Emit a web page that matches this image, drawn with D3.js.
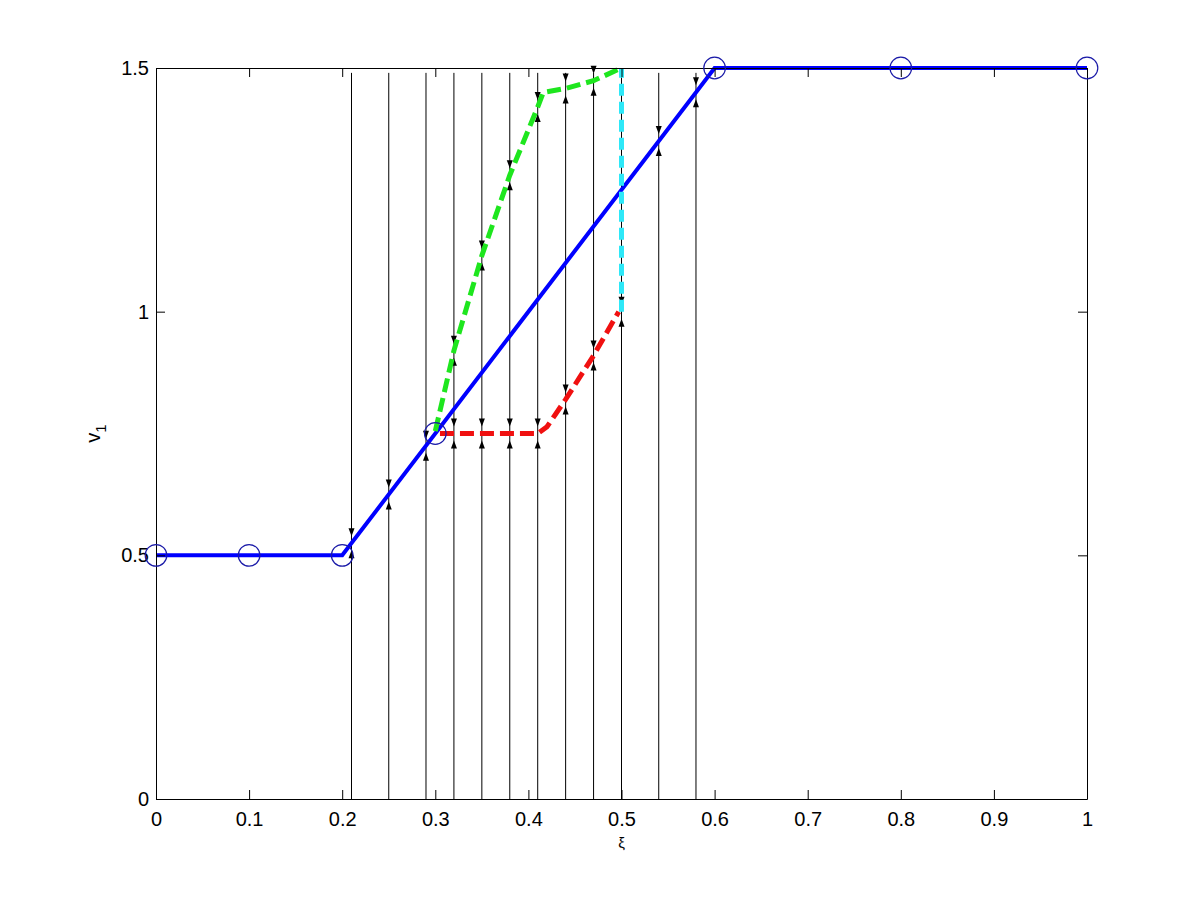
<!DOCTYPE html>
<html>
<head>
<meta charset="utf-8">
<script src="https://cdn.jsdelivr.net/npm/d3@7"></script>
<style>
  html, body { margin: 0; padding: 0; background: #fff; }
  text { font-family: "Liberation Sans", Arial, sans-serif; }
</style>
</head>
<body>
<svg id="chart" width="1200" height="900"></svg>
<script>
// ---- data ----
const xTicks = [0, 0.1, 0.2, 0.3, 0.4, 0.5, 0.6, 0.7, 0.8, 0.9, 1];
const xTickLabels = ["0", "0.1", "0.2", "0.3", "0.4", "0.5", "0.6", "0.7", "0.8", "0.9", "1"];
const yTicks = [0, 0.5, 1, 1.5];
const yTickLabels = ["0", "0.5", "1", "1.5"];

const blueX = [0, 0.2, 0.6, 1];
const blueY = [0.5, 0.5, 1.5, 1.5];
const markerX = [0, 0.1, 0.2, 0.3, 0.6, 0.8, 1];
const markerY = [0.5, 0.5, 0.5, 0.75, 1.5, 1.5, 1.5];

const greenX = [0.30, 0.32, 0.35, 0.38, 0.41, 0.416, 0.44, 0.47, 0.50];
const greenY = [0.755, 0.92, 1.115, 1.28, 1.42, 1.45, 1.458, 1.474, 1.5];

const redX = [0.305, 0.41, 0.42, 0.44, 0.47, 0.497];
const redY = [0.75, 0.75, 0.764, 0.82, 0.91, 1.0];

const cyanX = [0.5, 0.5];
const cyanY = [1.0, 1.5];

const fanX = [0.21, 0.25, 0.29, 0.32, 0.35, 0.38, 0.41, 0.44, 0.47, 0.50, 0.54, 0.58];
const fanBottom = 0;
const fanTop = 1.49;

const arrowX = [0.21, 0.25, 0.29, 0.32, 0.32, 0.35, 0.35, 0.38, 0.38, 0.41, 0.41, 0.44, 0.44, 0.47, 0.47, 0.50, 0.54, 0.58];
const arrowY = [0.525, 0.625, 0.725, 0.75, 0.92, 0.75, 1.115, 0.75, 1.28, 0.75, 1.42, 0.82, 1.458, 0.91, 1.474, 1.0, 1.35, 1.45];

// ---- chart ----
const svg = d3.select("#chart");
svg.append("rect").attr("width", 1200).attr("height", 900).attr("fill", "#fff");

const x = d3.scaleLinear().domain([0, 1]).range([156, 1087]);
const y = d3.scaleLinear().domain([0, 1.5]).range([799, 68]);

const zip = (xs, ys) => xs.map((v, i) => [v, ys[i]]);
const line = d3.line().x(d => x(d[0])).y(d => y(d[1]));

// vertical fan lines
svg.append("g").selectAll("line").data(fanX).join("line")
  .attr("x1", d => x(d)).attr("x2", d => x(d))
  .attr("y1", y(fanBottom)).attr("y2", y(fanTop))
  .attr("stroke", "#000").attr("stroke-width", 1);

// arrowheads pointing toward curve
const ag = svg.append("g");
const arrows = zip(arrowX, arrowY);
const gap = 7, len = 8, hw = 3;
ag.selectAll("path.down").data(arrows).join("path").attr("class", "down")
  .attr("d", d => {
    const cx = x(d[0]), cy = y(d[1]);
    return `M${cx - hw},${cy - gap - len}L${cx + hw},${cy - gap - len}L${cx},${cy - gap}Z`;
  }).attr("fill", "#000");
ag.selectAll("path.up").data(arrows).join("path").attr("class", "up")
  .attr("d", d => {
    const cx = x(d[0]), cy = y(d[1]);
    return `M${cx - hw},${cy + gap + len}L${cx + hw},${cy + gap + len}L${cx},${cy + gap}Z`;
  }).attr("fill", "#000");

// blue solution
svg.append("path").datum(zip(blueX, blueY)).attr("d", line)
  .attr("fill", "none").attr("stroke", "#0000ff").attr("stroke-width", 4)
  .attr("stroke-linejoin", "miter");

// red dashed
svg.append("path").datum(zip(redX, redY)).attr("d", line)
  .attr("fill", "none").attr("stroke", "#f01010").attr("stroke-width", 5)
  .attr("stroke-dasharray", "14,6");

// green dashed
svg.append("path").datum(zip(greenX, greenY)).attr("d", line)
  .attr("fill", "none").attr("stroke", "#1ee61e").attr("stroke-width", 5)
  .attr("stroke-dasharray", "14,6");

// cyan dashed
svg.append("path").datum(zip(cyanX, cyanY)).attr("d", line)
  .attr("fill", "none").attr("stroke", "#2ee8f8").attr("stroke-width", 5)
  .attr("stroke-dasharray", "12,6");

// axes (box with inward ticks)
const tickLen = 9;
const gB = svg.append("g").attr("transform", `translate(0,${y(0)})`)
  .call(d3.axisBottom(x).tickValues(xTicks).tickFormat((d, i) => xTickLabels[i])
    .tickSizeInner(-tickLen).tickSizeOuter(0).tickPadding(13));
const gT = svg.append("g").attr("transform", `translate(0,${y(1.5)})`)
  .call(d3.axisTop(x).tickValues(xTicks).tickFormat("")
    .tickSizeInner(-tickLen).tickSizeOuter(0));
const gL = svg.append("g").attr("transform", `translate(${x(0)},0)`)
  .call(d3.axisLeft(y).tickValues(yTicks).tickFormat((d, i) => yTickLabels[i])
    .tickSizeInner(-tickLen).tickSizeOuter(0).tickPadding(7));
const gR = svg.append("g").attr("transform", `translate(${x(1)},0)`)
  .call(d3.axisRight(y).tickValues(yTicks).tickFormat("")
    .tickSizeInner(-tickLen).tickSizeOuter(0));
[gB, gT, gL, gR].forEach(g => {
  g.selectAll(".domain").attr("stroke", "#000").attr("stroke-width", 1);
  g.selectAll(".tick line").attr("stroke", "#000");
  g.selectAll("text").attr("font-size", 20).attr("fill", "#000")
    .attr("font-family", "'Liberation Sans', Arial, sans-serif");
});

// circle markers
svg.append("g").selectAll("circle").data(zip(markerX, markerY)).join("circle")
  .attr("cx", d => x(d[0])).attr("cy", d => y(d[1])).attr("r", 10.8)
  .attr("fill", "none").attr("stroke", "#1a1aa8").attr("stroke-width", 1.2);

// axis labels
svg.append("text").attr("x", (x(0) + x(1)) / 2).attr("y", 848)
  .attr("text-anchor", "middle").attr("font-size", 15).text("ξ");
const yl = svg.append("text")
  .attr("transform", `translate(100,${(y(0) + y(1.5)) / 2}) rotate(-90)`)
  .attr("text-anchor", "middle").attr("font-size", 20);
yl.append("tspan").text("v");
yl.append("tspan").attr("font-size", 15).attr("dy", 6).text("1");
</script>
</body>
</html>
